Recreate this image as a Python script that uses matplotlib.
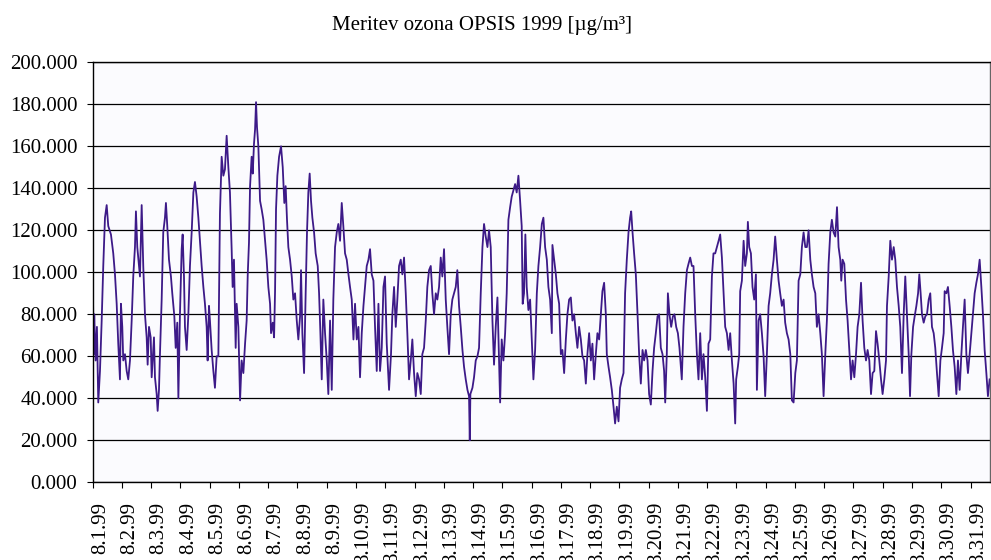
import numpy as np
import matplotlib.pyplot as plt

# ozone, OPSIS, August 1999 - hours since 1.8. 00:00 and value in ug/m3
hours = [
    0, 0.8, 1.3, 2.4, 3.5, 4.6, 6, 7.4, 8.7, 10.1, 11.5, 12.8, 15, 16.9, 18.3, 19.7, 21, 22.4, 23.2,
    24.3, 25.1, 26.5, 27.9, 29.2, 30.6, 32, 33.3, 34.7, 35.5, 36.6, 38.8, 40.2, 41.5, 42.9, 44.3, 45.1, 46.2, 47.6,
    48.4, 50.3, 51.1, 52.5, 53.3, 54.4, 55.2, 56.6, 57.9, 59.3, 60.1, 61.2, 62.6, 64.2, 65.3, 67, 68.1, 69.4, 70.3, 71.6,
    73, 73.8, 74.9, 75.7, 77.1, 78.5, 79.8, 81.2, 82.6, 83.9, 85.3, 86.7, 88, 89.4, 90.8, 92.1, 93.5, 94.3, 95.4,
    96.2, 97.6, 99, 100.3, 101.7, 103.1, 104.4, 105.8, 107.2, 108.5, 109.9, 111.3, 112.6, 114, 114.8, 115.9, 117.3, 118.1, 119.5,
    120.9, 122.2, 123.6, 125, 126.3, 127.2, 128.2, 129.1, 130.4, 131.3, 132.3, 133.2, 134, 134.8, 135.9, 137.3, 138.6, 140,
    141.4, 142.7, 144.1, 145.5, 146.3, 147.7, 148.8, 149.6, 150.4, 151.5, 152.9, 154.5, 155.9, 157.2, 158.3, 159.4, 160.5,
    161.9, 163.3, 164.6, 166, 167.4, 168.7, 170.1, 170.9, 172, 173.4, 174.7, 175.8, 176.9, 178, 179.1, 180.2, 181.6,
    182.9, 184.6, 185.7, 186.8, 187.9, 189.2, 190.6, 192, 193.3, 194.7, 196.1, 197.4, 198.8, 200.2, 201.5, 202.9,
    204.3, 205.6, 207, 208.4, 209.8, 211.1, 212.5, 213.9, 215.2, 216.6, 218, 219.3, 220.7, 222.1, 223.4, 224.8,
    226.2, 227.5, 228.9, 230.3, 231.6, 233, 234.4, 235.7, 237.1, 238.5,
    239.8, 241.2, 243.1, 244.7, 245.8, 247.2, 248.6, 249.9, 251.3, 252.7, 254, 255.4, 256.8, 258.1, 259.5, 260.9,
    262.2, 263.6, 265, 266.3, 267.7, 269.1, 270.4, 271.8, 273.2, 274.5, 275.9, 277.3, 278.6, 280, 281.4, 282.7,
    284.1, 285.5, 286.8, 288.2, 289.6, 290.9, 292.3, 293.7, 295, 296.4, 297.8, 299.1, 300.5, 301.9, 303.3, 304.6,
    306, 307.4, 308.7, 309.3, 309.8, 311.5, 312.8, 314.2, 315.6, 316.9, 318.3, 319.7, 321, 322.4, 323.8, 325.1,
    326.5, 327.9, 329.2, 330.6, 332, 333.3, 334.2, 335.5, 336.9, 338.3, 339.6, 341, 342.4, 343.7, 345.1, 346.5,
    347.8, 349.2, 350.6, 351.9, 352.7, 353.8, 354.9, 356, 357.4, 358.8, 360.1, 361.5,
    362.9, 364.3, 365.6, 367, 368.4, 369.7, 371.1, 372.5, 373.8, 375.2, 376.6, 377.1, 378.5, 379.9, 381.2, 382.6,
    384, 385.3, 386.7, 388.1, 389.4, 390.8, 392.2, 393.5, 394.9, 396.3, 397.6, 399, 400.4, 401.7, 403.1, 404.5,
    405.8, 407.2, 408.6, 409.9, 411.3, 412.7, 414, 415.4, 416.8, 418.1, 419.5, 420.9, 421.7, 423.1, 424.4, 425.8,
    427.2, 428.5, 429.9, 431.3, 432.6, 434, 435.4, 436.7, 438.1, 439.5, 440.8, 441.7, 442.8, 444.1, 445.5, 446.9,
    448.2, 449.6, 451, 452.3, 453.7, 455.1, 456.4, 457.8, 459.2, 460.5, 461.9, 463.3, 464.6, 466, 467.4, 468.7,
    469.6, 470.9, 471.8, 473.1, 474.5, 475.9, 477.2, 478.6, 480, 481.3, 483.2, 484.6,
    486, 487.4, 488.7, 490.1, 491.5, 492.8, 494.2, 495.6, 496.9, 498.3, 499.7, 501, 502.4, 503.8, 505.1, 506.5,
    507.9, 509.2, 510.6, 512, 513.4, 514.7, 516.1, 517.5, 518.8, 520.2, 521.6, 522.9, 524.3, 525.7, 527, 527.8,
    529.2, 530.3, 531.1, 532.5, 533.9, 535.2, 536.6, 537.4, 538.5, 539.9, 541.2, 542.6, 544, 544.8, 546.2, 547.5,
    548.9, 550.3, 551.6, 553, 554.4, 555.7, 557.1, 558.5, 559.8, 561.2, 562.6, 563.9, 565.3, 566.7, 568, 569.4,
    570.8, 572.2, 573.5, 574.9, 576.3, 577.6, 579, 580.4, 581.7, 583.1, 584.5, 585.8, 587.2, 588.6, 589.9, 591.3,
    592.7, 594, 595.4, 596.8, 598.1, 599.5, 600.9, 602.2, 603.6, 605, 606.3, 607.7,
    609.1, 610.5, 611.8, 613.2, 614, 615.1, 616.5, 617.9, 619.2, 620.6, 622, 623.3, 624.7, 626.1, 627.4, 628.8,
    630.2, 631.5, 632.9, 634.3, 635.6, 637, 638.4, 639.7, 641.1, 642.5, 643.8, 645.2, 646.6, 647.9, 649.3, 650.7,
    651.5, 652.9, 654.2, 655.6, 657, 658.3, 659.7, 661.1, 662.4, 663.8, 665.2, 666.5, 667.9, 669.3, 670.4, 671.5,
    672.9, 674.2, 675.6, 677, 678, 679.1, 680.2, 681.6, 682.9, 684.3, 685.7, 687, 688.4, 689.8, 691.1, 692.5,
    693.9, 695.3, 696.6, 698, 698.8, 700.2, 701.5, 702.9, 704.3, 705.6, 707, 708.4, 709.7, 711.1, 712.5, 713.8,
    715.2, 716.6, 717.9, 719.3, 720.7, 722, 723.4, 724.8, 726.1, 727.5, 728.9, 730.2, 731.6, 733, 734.3, 735.7,
]

ozone = [
    104, 61, 80, 58, 74, 38, 53, 77, 103, 126, 132, 122, 118, 109, 99, 85, 66, 49, 85,
    74, 58, 61, 53, 49, 58, 77, 98, 112, 129, 112, 98, 132, 103, 80, 69, 56, 74, 69,
    50, 69, 50, 42, 34, 44, 61, 87, 119, 126, 133, 122, 106, 98, 90, 79, 64, 76, 40, 80,
    111, 118, 98, 74, 63, 80, 103, 119, 138, 143, 136, 126, 115, 103, 93, 85, 74, 58, 84,
    77, 63, 53, 45, 60, 60, 128, 155, 146, 149, 165, 150, 138, 111, 93, 106, 64, 85, 74,
    39, 58, 52, 66, 77, 99, 114, 141, 155, 147, 161, 168, 181, 169, 160, 134, 130, 125,
    115, 106, 93, 85, 71, 76, 69, 91, 130, 146, 155, 160, 150, 133, 141, 125, 112,
    106, 98, 87, 90, 77, 68, 79, 101, 71, 52, 90, 119, 138, 147, 134, 126, 119,
    109, 103, 90, 71, 49, 87, 71, 58, 42, 77, 44, 87, 112, 119, 123, 115,
    133, 122, 109, 106, 99, 93, 87, 68, 85, 68, 74, 50, 71, 84, 93, 103,
    106, 111, 99, 96, 74, 53, 85, 53, 64, 93,
    98, 66, 44, 61, 80, 93, 74, 87, 103, 106, 99, 107, 90, 71, 49, 58,
    68, 52, 41, 52, 49, 42, 61, 64, 77, 93, 101, 103, 90, 80, 90, 87,
    93, 107, 98, 111, 87, 74, 61, 80, 87, 90, 93, 101, 84, 74, 63, 55,
    49, 44, 41, 20, 42, 45, 50, 58, 60, 64, 90, 112, 123, 117, 112, 120,
    112, 77, 56, 74, 88, 58, 38, 68, 58, 71, 90, 125, 131, 136, 139, 142,
    138, 146, 134, 122, 85, 90, 118, 93, 82, 87, 69, 49,
    63, 90, 103, 112, 123, 126, 112, 106, 93, 87, 71, 113, 106, 99, 90, 85,
    61, 63, 52, 68, 80, 87, 88, 77, 80, 71, 64, 74, 68, 60, 58, 47,
    61, 71, 58, 66, 49, 61, 71, 68, 80, 91, 95, 80, 61, 55, 50, 44,
    36, 28, 36, 29, 45, 49, 52, 90, 106, 119, 126, 129, 119, 109, 99, 80,
    61, 47, 63, 58, 63, 58, 42, 37, 53, 64, 71, 79, 80, 64, 61, 53,
    38, 61, 90, 80, 74, 79, 80, 74, 71, 64, 49, 74,
    90, 101, 104, 107, 103, 103, 80, 61, 49, 71, 49, 61, 50, 34, 66, 68,
    98, 109, 109, 112, 115, 118, 107, 90, 74, 71, 63, 71, 58, 47, 28, 49,
    55, 61, 91, 96, 115, 103, 109, 124, 112, 109, 93, 87, 99, 44, 77, 80,
    71, 60, 41, 61, 84, 90, 99, 106, 117, 106, 96, 90, 84, 87, 76, 71,
    68, 61, 39, 38, 52, 58, 96, 99, 112, 119, 112, 112, 120, 106, 99, 93,
    90, 74, 80, 71, 61, 41, 61, 77, 104, 119, 125, 119,
    117, 131, 112, 106, 96, 106, 104, 87, 77, 63, 49, 58, 50, 61, 74, 80,
    95, 77, 64, 58, 63, 58, 42, 52, 53, 72, 66, 58, 49, 42, 49, 58,
    84, 98, 115, 106, 112, 106, 93, 84, 74, 52, 80, 98, 80, 61, 41, 61,
    74, 79, 84, 90, 99, 90, 80, 76, 79, 80, 87, 90, 74, 71, 64, 52,
    41, 58, 64, 71, 91, 90, 93, 84, 74, 63, 55, 42, 58, 44, 61, 74,
    87, 61, 52, 61, 71, 80, 90, 95, 99, 106, 93, 80, 63, 52, 41, 49,
]

days = [f"8.{d}.99" for d in range(1, 32)]
yticks = np.arange(0, 201, 20)

plt.rcParams['font.family'] = ['Liberation Serif', 'DejaVu Serif']

fig = plt.figure(figsize=(9.91, 5.6), dpi=100)
ax = fig.add_axes([0.0935, 0.1388, 0.9055, 0.75])
ax.set_facecolor('#fbfbfe')

ax.plot(hours, ozone, color='#3d1a88', lw=1.3)

ax.set_ylim(0, 200)
ax.set_xlim(0, 736)
ax.set_yticks(yticks)
ax.set_yticklabels([f"{v:.3f}" for v in yticks], fontsize=15)
ax.yaxis.grid(True, color='black', lw=0.9)
ax.set_axisbelow(True)

# ticks every day, labels shifted a bit to the right of each tick
ax.set_xticks(np.arange(0, 31) * 24)
ax.set_xticklabels([])
ax.set_xticks(np.arange(0, 31) * 24 + 6.5, minor=True)
ax.set_xticklabels(days, minor=True, rotation=90, fontsize=15)
ax.tick_params(axis='x', which='minor', length=0, pad=14)
ax.tick_params(axis='x', which='major', length=4, direction='out')
ax.tick_params(axis='y', length=4, pad=7)

for s in ax.spines.values():
    s.set_color('black')
    s.set_linewidth(1)
ax.spines['right'].set_color('#666666')

fig.text(0.486, 0.955, "Meritev ozona OPSIS 1999 [µg/m³]", ha='center', va='center', fontsize=15)

fig.savefig('out.png', dpi=100)
